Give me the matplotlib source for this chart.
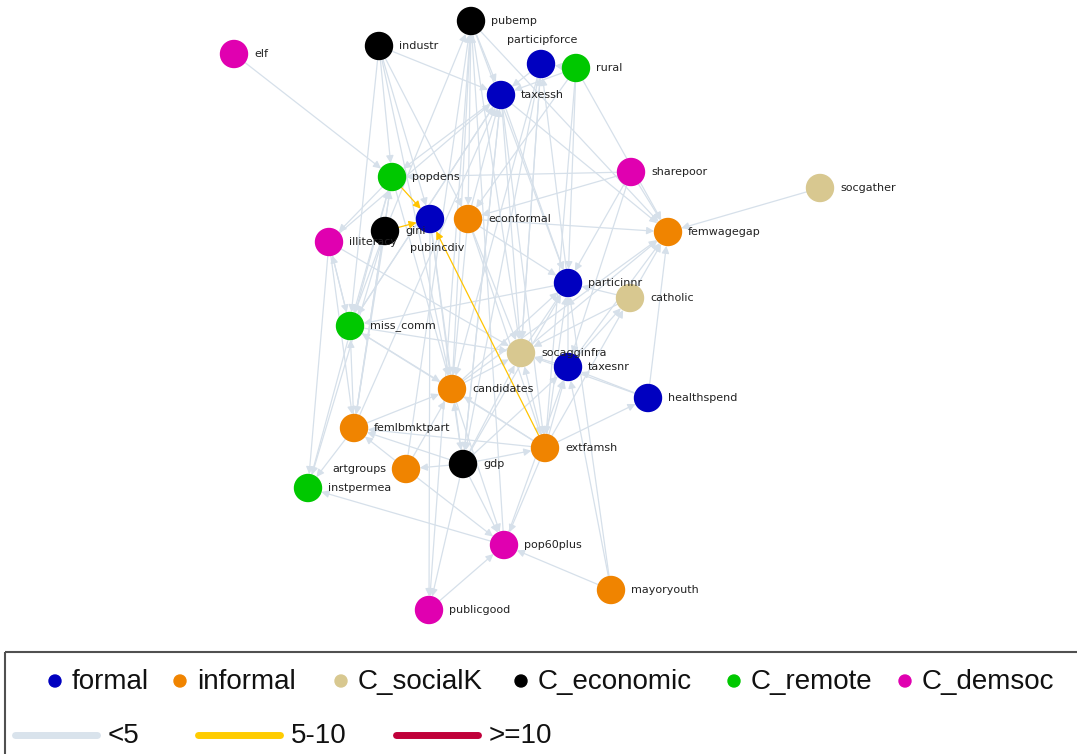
import matplotlib
matplotlib.use("Agg")
import matplotlib.pyplot as plt
from matplotlib.patches import Rectangle, Circle

# node names, groups and layout positions (pixel space)
names = ["elf", "industr", "pubemp", "participforce", "rural", "taxessh",
         "popdens", "sharepoor", "socgather", "pubincdiv", "econformal", "gini",
         "illiteracy", "femwagegap", "particinnr", "catholic", "miss_comm",
         "socagginfra", "taxesnr", "candidates", "healthspend", "femlbmktpart",
         "extfamsh", "gdp", "artgroups", "instpermea", "pop60plus",
         "mayoryouth", "publicgood"]
groups = ["C_demsoc", "C_economic", "C_economic", "formal", "C_remote", "formal",
          "C_remote", "C_demsoc", "C_socialK", "formal", "informal", "C_economic",
          "C_demsoc", "informal", "formal", "C_socialK", "C_remote",
          "C_socialK", "formal", "informal", "formal", "informal",
          "informal", "C_economic", "informal", "C_remote", "C_demsoc",
          "informal", "C_demsoc"]
xs = [234, 379, 471, 541, 576, 501, 392, 631, 820, 430, 468, 385, 329, 668, 568,
      630, 350, 521, 568, 452, 648, 354, 545, 463, 406, 308, 504, 611, 429]
ys = [54, 46, 21, 64, 68, 95, 177, 172, 188, 219, 219, 231, 242, 232, 283,
      298, 326, 353, 367, 389, 398, 428, 448, 464, 469, 488, 545, 590, 610]

# edges with weight 5-10
strong_src = ["popdens", "gini", "extfamsh"]
strong_dst = ["pubincdiv", "pubincdiv", "pubincdiv"]

# edges with weight <5
weak = [
    ("elf", "popdens"), ("industr", "popdens"), ("industr", "taxessh"),
    ("industr", "pubincdiv"), ("industr", "candidates"), ("industr", "econformal"),
    ("pubemp", "taxessh"), ("pubemp", "econformal"), ("pubemp", "particinnr"),
    ("pubemp", "femwagegap"), ("pubemp", "socagginfra"),
    ("rural", "participforce"), ("rural", "taxessh"), ("rural", "econformal"),
    ("rural", "particinnr"), ("rural", "extfamsh"), ("participforce", "taxessh"),
    ("participforce", "candidates"), ("participforce", "socagginfra"),
    ("econformal", "taxessh"), ("gdp", "taxessh"), ("miss_comm", "taxessh"),
    ("illiteracy", "taxessh"), ("femlbmktpart", "taxessh"),
    ("candidates", "pubemp"), ("gini", "pubemp"), ("artgroups", "pubemp"),
    ("particinnr", "participforce"), ("socagginfra", "participforce"),
    ("sharepoor", "femwagegap"), ("sharepoor", "particinnr"),
    ("sharepoor", "econformal"), ("sharepoor", "taxesnr"), ("sharepoor", "popdens"),
    ("socgather", "femwagegap"), ("healthspend", "femwagegap"),
    ("healthspend", "taxesnr"), ("catholic", "femwagegap"),
    ("catholic", "particinnr"), ("socagginfra", "particinnr"),
    ("candidates", "particinnr"), ("taxesnr", "particinnr"),
    ("extfamsh", "particinnr"), ("gdp", "particinnr"),
    ("extfamsh", "catholic"), ("taxesnr", "catholic"),
    ("econformal", "socagginfra"), ("illiteracy", "socagginfra"),
    ("taxesnr", "socagginfra"), ("extfamsh", "socagginfra"),
    ("gdp", "socagginfra"), ("candidates", "socagginfra"),
    ("miss_comm", "socagginfra"), ("extfamsh", "taxesnr"), ("gdp", "taxesnr"),
    ("pop60plus", "taxesnr"), ("mayoryouth", "taxesnr"),
    ("extfamsh", "healthspend"), ("extfamsh", "candidates"),
    ("extfamsh", "pop60plus"), ("extfamsh", "femlbmktpart"),
    ("gdp", "publicgood"), ("gdp", "artgroups"), ("gdp", "pop60plus"),
    ("gdp", "extfamsh"), ("gdp", "femlbmktpart"), ("gdp", "candidates"),
    ("artgroups", "femlbmktpart"), ("artgroups", "pop60plus"),
    ("artgroups", "candidates"), ("femlbmktpart", "instpermea"),
    ("femlbmktpart", "candidates"), ("femlbmktpart", "miss_comm"),
    ("pop60plus", "instpermea"), ("mayoryouth", "pop60plus"),
    ("publicgood", "pop60plus"), ("miss_comm", "illiteracy"),
    ("illiteracy", "miss_comm"), ("popdens", "illiteracy"),
    ("popdens", "miss_comm"), ("popdens", "femlbmktpart"),
    ("gini", "miss_comm"), ("gini", "instpermea"), ("gini", "femlbmktpart"),
    ("pubincdiv", "candidates"), ("pubincdiv", "gdp"),
    ("pubincdiv", "publicgood"), ("econformal", "candidates"),
    ("econformal", "particinnr"), ("econformal", "extfamsh"),
    ("econformal", "femwagegap"), ("miss_comm", "candidates"),
    ("candidates", "pop60plus"), ("socagginfra", "femwagegap"),
    ("taxesnr", "femwagegap"), ("illiteracy", "femlbmktpart"),
    ("illiteracy", "instpermea"), ("taxessh", "femwagegap"),
    ("taxessh", "particinnr"), ("taxessh", "socagginfra"),
    ("taxessh", "extfamsh"), ("taxessh", "gdp"), ("taxessh", "popdens"),
    ("particinnr", "miss_comm"), ("mayoryouth", "particinnr"),
    ("instpermea", "popdens"), ("femlbmktpart", "popdens"),
    ("catholic", "socagginfra"), ("healthspend", "socagginfra"),
    ("pubemp", "publicgood"), ("pop60plus", "pubemp"),
    ("rural", "femwagegap"), ("participforce", "gdp"), ("industr", "miss_comm"),
    ("candidates", "femwagegap"), ("extfamsh", "miss_comm"),
    ("popdens", "candidates"), ("taxessh", "miss_comm"),
]

# label offsets (dx, dy, ha)
label_pos = {"participforce": (1, -24, "center"), "pubincdiv": (7, 29, "center"),
             "artgroups": (-20, 0, "right")}

group_order = ["formal", "informal", "C_socialK", "C_economic", "C_remote", "C_demsoc"]
group_colors = ["#0000c0", "#f08400", "#d8c890", "#000000", "#00c800", "#e000b0"]
weight_labels = ["<5", "5-10", ">=10"]
weight_colors = ["#d9e3ec", "#ffcc00", "#c0003a"]

pos = {n: (x, y) for n, x, y in zip(names, xs, ys)}
col = dict(zip(group_order, group_colors))

fig = plt.figure(figsize=(10.77, 7.54), dpi=100)
ax = fig.add_axes([0, 0, 1, 1])
ax.set_xlim(0, 1077)
ax.set_ylim(754, 0)
ax.axis("off")

def draw_edge(a, b, color, z):
    ax.annotate("", xy=pos[b], xytext=pos[a],
                arrowprops=dict(arrowstyle="-|>", color=color, lw=0.9,
                                shrinkA=10, shrinkB=10, mutation_scale=11),
                zorder=z)

for a, b in weak:
    draw_edge(a, b, "#d6e0ea", 1)
for a, b in zip(strong_src, strong_dst):
    draw_edge(a, b, "#ffc400", 2)

for n, g in zip(names, groups):
    ax.add_patch(Circle(pos[n], 13.5, color=col[g], zorder=3))
    dx, dy, ha = label_pos.get(n, (20, 0, "left"))
    ax.text(pos[n][0] + dx, pos[n][1] + dy, n, fontsize=8, ha=ha, va="center",
            color="#222222", family="DejaVu Sans", zorder=4)

# legend box
ax.add_patch(Rectangle((5, 652), 1080, 110, fill=False, edgecolor="#505050",
                       lw=1.5, zorder=5, clip_on=False))
dot_x = [55, 180, 341, 521, 734, 905]
for gx, g, c in zip(dot_x, group_order, group_colors):
    ax.add_patch(Circle((gx, 681), 6, color=c, zorder=6))
    ax.text(gx + 17, 682, g, fontsize=20, family="Liberation Sans",
            va="center", ha="left", color="#111111", zorder=6)
line_x = [15, 198, 396]
for lx, lab, c in zip(line_x, weight_labels, weight_colors):
    ax.plot([lx, lx + 82], [735, 735], color=c, lw=5, solid_capstyle="round",
            zorder=6)
    ax.text(lx + 93, 736, lab, fontsize=20, family="Liberation Sans",
            va="center", ha="left", color="#111111", zorder=6)

fig.savefig("out.png", dpi=100)
